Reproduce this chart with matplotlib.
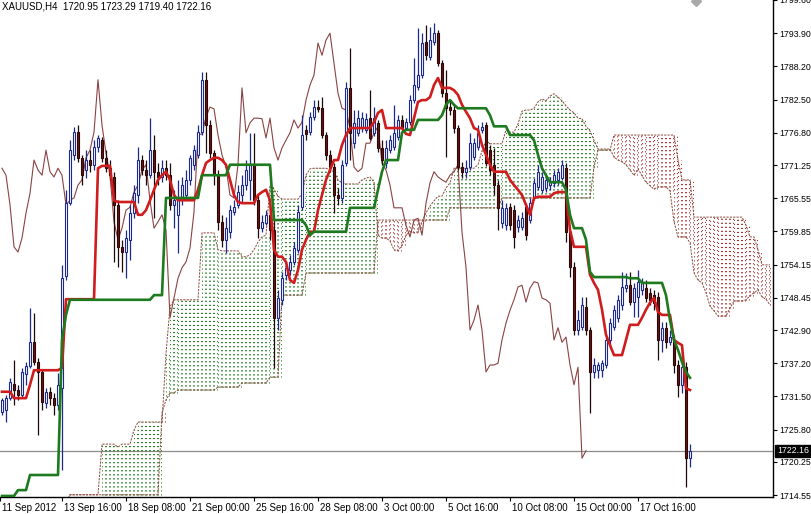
import matplotlib
matplotlib.use('Agg')
import matplotlib.pyplot as plt
import matplotlib.transforms as mtransforms
import numpy as np

plt.rcParams['font.family'] = ['Liberation Sans', 'DejaVu Sans']
plt.rcParams['lines.scale_dashes'] = False

# ---------------- data (XAUUSD H4) ----------------
symbol_title = 'XAUUSD,H4  1720.95 1723.29 1719.40 1722.16'
current_price = 1722.16

opens = [1728.8, 1729.2, 1731.2, 1733.6, 1732.6, 1731.7, 1735.3, 1736.7, 1740.8, 1737.4,
         1735.7, 1730.4, 1732.3, 1731.2, 1730.0, 1732.9, 1752.2, 1764.7, 1773.0, 1776.9,
         1772.5, 1770.4, 1772.1, 1771.3, 1774.3, 1775.5, 1772.5, 1770.7, 1769.2, 1764.4,
         1757.2, 1756.3, 1758.4, 1763.0, 1766.1, 1772.1, 1770.4, 1769.5, 1773.8, 1770.1,
         1769.2, 1770.7, 1769.5, 1764.4, 1762.7, 1765.6, 1766.1, 1768.7, 1771.3, 1773.0,
         1776.9, 1785.9, 1778.1, 1773.3, 1769.5, 1761.5, 1758.4, 1759.7, 1763.2, 1764.4,
         1766.1, 1767.8, 1768.7, 1771.3, 1765.2, 1760.4, 1761.3, 1762.7, 1760.1, 1745.0,
         1748.1, 1752.4, 1753.2, 1754.6, 1756.7, 1764.0, 1777.3, 1776.9, 1779.5, 1781.2,
         1781.0, 1776.4, 1773.0, 1770.9, 1766.1, 1765.6, 1771.6, 1784.5, 1775.0, 1776.8,
         1777.6, 1777.3, 1779.3, 1776.8, 1778.5, 1774.2, 1771.6, 1773.8, 1774.3, 1776.1,
         1779.0, 1777.6, 1778.6, 1782.4, 1784.7, 1786.7, 1792.4, 1789.8, 1792.4, 1793.9,
         1788.8, 1783.6, 1781.2, 1780.7, 1777.6, 1770.9, 1770.1, 1770.9, 1772.6, 1774.3,
         1777.3, 1778.1, 1773.8, 1771.3, 1767.8, 1761.3, 1760.9, 1764.0, 1763.5, 1760.6,
         1760.6, 1764.0, 1761.8, 1765.6, 1767.5, 1767.0, 1767.3, 1767.8, 1768.2, 1768.7,
         1769.0, 1770.7, 1759.7, 1753.7, 1742.9, 1743.4, 1746.9, 1742.9, 1735.7, 1736.0,
         1736.0, 1736.9, 1741.2, 1743.4, 1745.0, 1747.2, 1750.1, 1750.6, 1747.7, 1748.6,
         1749.8, 1750.1, 1749.3, 1748.9, 1748.6, 1741.2, 1743.3, 1740.8, 1741.2, 1736.9,
         1733.5, 1736.5, 1720.95]
highs = [1731.2, 1731.7, 1734.6, 1737.8, 1733.5, 1736.4, 1737.4, 1746.7, 1745.8, 1738.1,
         1736.0, 1732.9, 1733.1, 1732.1, 1735.5, 1754.1, 1767.0, 1775.5, 1777.8, 1778.1,
         1773.0, 1773.8, 1773.8, 1775.5, 1776.4, 1776.1, 1773.8, 1772.1, 1770.1, 1765.2,
         1758.4, 1760.1, 1764.4, 1767.8, 1774.3, 1773.0, 1772.1, 1779.3, 1776.4, 1771.6,
         1772.1, 1772.1, 1771.6, 1767.0, 1768.7, 1769.2, 1770.4, 1773.0, 1774.7, 1778.1,
         1787.2, 1787.2, 1779.0, 1773.8, 1770.4, 1762.7, 1762.3, 1764.4, 1765.2, 1767.8,
         1769.5, 1772.1, 1776.8, 1776.8, 1766.1, 1762.7, 1763.5, 1764.4, 1761.8, 1749.8,
         1752.9, 1754.6, 1755.8, 1758.0, 1764.4, 1779.8, 1778.1, 1780.4, 1782.4, 1782.4,
         1782.9, 1776.9, 1773.8, 1771.6, 1767.3, 1772.1, 1785.5, 1791.4, 1780.7, 1780.7,
         1780.4, 1780.2, 1784.1, 1781.2, 1779.0, 1775.5, 1775.5, 1776.4, 1781.6, 1779.8,
         1779.8, 1779.3, 1783.3, 1789.6, 1794.8, 1793.9, 1795.3, 1795.0, 1795.6, 1794.4,
         1789.3, 1787.6, 1782.4, 1781.6, 1778.1, 1771.8, 1772.1, 1776.8, 1775.9, 1778.1,
         1778.6, 1778.6, 1774.7, 1774.2, 1768.7, 1765.2, 1764.7, 1764.7, 1764.4, 1762.7,
         1763.2, 1764.7, 1765.6, 1769.0, 1771.3, 1770.1, 1769.5, 1769.2, 1770.4, 1770.7,
         1772.1, 1771.6, 1760.1, 1754.6, 1746.3, 1748.6, 1748.6, 1743.4, 1738.1, 1737.4,
         1737.8, 1742.0, 1745.0, 1747.2, 1748.9, 1752.9, 1752.7, 1752.9, 1751.0, 1753.2,
         1751.8, 1751.5, 1750.1, 1749.8, 1749.4, 1744.3, 1744.3, 1742.9, 1742.0, 1737.8,
         1737.4, 1737.4, 1723.29]
lows = [1728.3, 1727.1, 1730.9, 1730.0, 1730.9, 1731.2, 1733.5, 1736.4, 1736.9, 1724.9,
        1729.2, 1729.5, 1730.0, 1728.3, 1729.2, 1718.8, 1751.5, 1764.4, 1772.1, 1771.8,
        1767.8, 1769.0, 1770.1, 1770.4, 1773.5, 1771.8, 1770.1, 1768.7, 1754.6, 1753.7,
        1752.9, 1751.8, 1754.9, 1762.1, 1764.7, 1769.5, 1767.8, 1769.0, 1762.1, 1767.8,
        1768.3, 1768.7, 1763.5, 1760.4, 1756.1, 1764.4, 1765.2, 1767.8, 1770.4, 1772.5,
        1776.4, 1773.3, 1772.5, 1767.8, 1760.1, 1757.2, 1756.1, 1758.7, 1762.7, 1763.9,
        1764.7, 1767.0, 1765.2, 1764.4, 1758.7, 1759.7, 1760.9, 1758.4, 1736.4, 1742.9,
        1747.2, 1751.5, 1752.4, 1754.1, 1756.1, 1763.5, 1775.5, 1776.4, 1779.0, 1780.4,
        1775.9, 1772.1, 1770.1, 1763.0, 1764.4, 1764.7, 1771.1, 1772.1, 1774.2, 1776.2,
        1776.9, 1776.8, 1775.5, 1776.2, 1773.5, 1771.3, 1770.7, 1773.3, 1773.8, 1775.5,
        1776.9, 1777.3, 1778.1, 1781.9, 1784.1, 1786.2, 1789.3, 1789.3, 1791.9, 1788.3,
        1782.9, 1772.6, 1779.8, 1776.8, 1770.4, 1769.0, 1769.0, 1770.4, 1772.1, 1773.8,
        1776.8, 1771.1, 1769.5, 1766.1, 1760.1, 1760.4, 1760.1, 1760.1, 1757.0, 1759.7,
        1760.1, 1758.4, 1761.3, 1765.2, 1767.0, 1766.4, 1766.6, 1767.0, 1767.5, 1767.8,
        1768.7, 1758.0, 1752.0, 1742.0, 1742.0, 1742.9, 1742.0, 1728.6, 1734.6, 1734.6,
        1734.8, 1736.4, 1740.3, 1742.9, 1744.3, 1746.3, 1749.4, 1747.2, 1745.1, 1745.1,
        1748.9, 1747.7, 1747.2, 1746.3, 1737.8, 1739.1, 1739.8, 1740.3, 1735.5, 1731.4,
        1732.1, 1715.9, 1719.40]
closes = [1730.9, 1731.2, 1734.0, 1732.6, 1731.7, 1735.7, 1736.7, 1740.8, 1737.4, 1735.7,
          1730.5, 1732.3, 1731.2, 1730.0, 1733.5, 1751.8, 1764.7, 1773.8, 1776.9, 1772.5,
          1769.5, 1772.1, 1771.3, 1774.3, 1775.9, 1772.5, 1770.7, 1769.5, 1764.4, 1757.2,
          1756.3, 1758.7, 1763.0, 1766.4, 1772.1, 1770.4, 1769.5, 1773.8, 1770.1, 1769.2,
          1770.7, 1769.5, 1764.4, 1765.2, 1765.6, 1767.8, 1768.7, 1772.5, 1773.8, 1776.9,
          1785.9, 1778.1, 1773.3, 1769.5, 1761.5, 1758.4, 1760.4, 1763.5, 1764.0, 1766.6,
          1767.8, 1770.4, 1771.3, 1765.2, 1760.4, 1761.5, 1762.7, 1760.1, 1745.0, 1748.4,
          1751.8, 1753.6, 1754.6, 1757.0, 1763.2, 1776.4, 1776.6, 1779.5, 1781.2, 1780.9,
          1776.4, 1773.0, 1770.9, 1766.1, 1765.6, 1771.3, 1784.5, 1776.8, 1778.5, 1779.3,
          1779.3, 1779.2, 1775.9, 1779.3, 1774.2, 1772.1, 1774.2, 1775.5, 1776.8, 1779.0,
          1777.6, 1778.6, 1782.4, 1785.0, 1786.7, 1792.2, 1790.1, 1792.7, 1793.9, 1788.8,
          1783.6, 1781.0, 1780.7, 1777.6, 1770.9, 1770.1, 1770.7, 1775.0, 1775.0, 1776.8,
          1777.8, 1771.6, 1770.4, 1767.8, 1763.9, 1763.9, 1763.9, 1760.9, 1758.9, 1761.8,
          1762.1, 1759.2, 1764.7, 1768.2, 1770.1, 1769.2, 1768.7, 1768.3, 1769.5, 1770.1,
          1771.3, 1759.7, 1753.7, 1742.9, 1744.6, 1747.2, 1742.9, 1735.7, 1736.9, 1736.9,
          1737.2, 1741.2, 1744.1, 1746.3, 1748.1, 1750.3, 1750.6, 1747.7, 1750.1, 1751.2,
          1751.0, 1748.4, 1748.1, 1747.5, 1741.2, 1743.3, 1740.8, 1741.7, 1736.9, 1733.5,
          1736.5, 1720.9, 1722.16]

tenkan = ([1732.3] * 3 + [1731.2] * 4 + [1733.5] + [1736.0] * 7 + [1736.4] + [1748.2] * 8 +
          [1770.7] + [1771.1] * 3 + [1765.2] + [1764.9] * 5 + [1762.7] * 2 + [1763.5, 1765.2,
          1767.0, 1768.7, 1769.5, 1770.1, 1768.7, 1766.1] + [1765.2] * 5 + [1767.0, 1769.5,
          1771.6, 1772.1, 1772.5, 1772.5, 1772.1, 1771.3, 1768.7, 1766.1, 1764.9] +
          [1764.7] * 4 + [1766.1, 1766.6, 1767.0, 1765.2, 1756.7, 1755.5, 1755.5, 1754.6,
          1751.5, 1751.0, 1753.2, 1756.7, 1758.4, 1759.8, 1759.8, 1763.5, 1766.1, 1768.7,
          1770.4, 1772.1, 1772.1, 1774.7, 1776.4] + [1777.6] * 6 + [1778.6, 1780.2, 1780.7] +
          [1777.6] * 5 + [1776.6, 1776.4, 1779.3, 1782.1, 1782.4, 1782.4, 1782.9, 1785.0,
          1786.2] + [1784.5] * 3 + [1784.1, 1783.3, 1781.6, 1780.4, 1779.3, 1777.6, 1777.3,
          1774.7, 1773.0, 1771.3] + [1770.1] * 4 + [1768.7, 1767.8, 1767.0, 1766.1, 1764.4,
          1762.7, 1765.6] + [1765.8] * 4 + [1766.4] + [1766.6] * 3 + [1760.1] + [1757.2] * 4 +
          [1752.4, 1751.0, 1749.8, 1746.4, 1742.1, 1740.3] + [1738.6] * 3 + [1741.2] +
          [1743.8] * 3 + [1745.0, 1746.4, 1747.6, 1748.4, 1746.0] + [1745.5] * 3 +
          [1741.2, 1740.7, 1740.3, 1732.9, 1732.6])

kijun = ([1714.4] * 4 + [1715.4] * 3 + [1718.0] * 8 + [1741.2, 1745.5] + [1748.1] * 21 +
         [1748.9] * 3 + [1765.6] * 9 + [1769.5] * 7 + [1771.3] * 11 + [1761.8] * 8 +
         [1760.9, 1759.2] + [1759.8] * 9 + [1763.9] * 7 + [1767.0, 1770.1] + [1772.1] * 4 +
         [1776.8] + [1777.3] * 3 + [1779.0] * 6 + [1779.8, 1781.6, 1782.4, 1781.6] +
         [1781.0] * 8 + [1779.8] + [1777.9] * 4 + [1776.4] * 6 + [1775.5, 1773.0, 1770.7,
         1769.5] + [1768.3] * 4 + [1767.0, 1762.7] + [1760.4] * 3 + [1758.4, 1752.9] +
         [1752.0] * 9 + [1751.8] * 3 + [1751.0] * 6 + [1748.9, 1744.6, 1741.2, 1739.5,
         1737.4, 1735.7, 1734.7])

# leading spans, 26 bars ahead of the last candle
senkou_a = ([1713.0] * 17 + [1714.6] * 8 + [1723.3] * 4 + [1722.8] + [1723.3] * 3 +
            [1725.7] + [1727.1] * 7 + [1738.8, 1746.9] + [1748.1] * 7 + [1759.6] * 4 +
            [1756.7] + [1756.5] * 5 + [1755.5] * 2 + [1755.8, 1756.7, 1758.0, 1758.9,
            1759.2, 1767.8, 1767.1, 1765.9] + [1765.4] * 5 + [1766.3, 1769.5, 1770.6] +
            [1770.7] * 4 + [1770.4, 1770.1, 1768.7, 1768.2] + [1768.0] * 4 +
            [1768.7, 1769.0, 1769.2, 1768.3, 1759.2, 1758.7, 1758.7, 1758.2, 1756.7,
            1756.5, 1757.5, 1759.2, 1759.8, 1759.6, 1759.8, 1761.6, 1763.0, 1764.2,
            1765.1, 1765.9, 1765.9, 1767.3, 1768.2] + [1770.7] * 6 + [1771.3, 1773.7,
            1775.4] + [1774.9] * 4 + [1777.3, 1776.9, 1776.9, 1778.3, 1780.5, 1780.7,
            1780.7, 1781.0, 1782.1, 1782.6, 1782.3, 1783.1, 1783.5, 1782.9, 1782.3,
            1781.4, 1780.7, 1780.2, 1779.3, 1779.2, 1777.9, 1777.1, 1775.5] +
            [1774.0] * 4 + [1772.6, 1772.1, 1771.8, 1771.3, 1770.4, 1769.5, 1770.6,
            1769.4, 1768.3, 1767.7, 1767.1] + [1767.5] * 3 + [1766.8, 1761.5] +
            [1758.9] * 3 + [1757.9, 1752.7, 1751.5, 1751.0, 1749.3, 1747.0, 1746.2] +
            [1745.3] * 3 + [1746.7] + [1747.9] * 3 + [1748.1, 1748.8, 1749.3, 1749.8,
            1748.6, 1748.2, 1747.2])

senkou_b = ([1713.0] * 17 + [1714.6] * 23 + [1728.7, 1730.9] + [1732.1] * 2 +
            [1732.6] * 10 + [1733.1] * 6 + [1733.8] * 7 + [1734.8] * 3 + [1748.9] * 6 +
            [1752.7] * 18 + [1761.8] * 18 + [1763.9] * 13 + [1765.6] * 23 + [1770.9] +
            [1773.8] * 4 + [1776.4] * 16 + [1772.1] + [1768.7] * 3 + [1762.3] * 13 +
            [1760.9] + [1758.9] * 2 + [1756.7] + [1754.1] * 3)

price_ticks = [1799.60, 1793.90, 1788.20, 1782.50, 1776.80, 1771.25, 1765.55, 1759.85,
               1754.15, 1748.45, 1742.90, 1737.20, 1731.50, 1725.80, 1720.25, 1714.55]
date_ticks = [-0.5, 15, 31, 47, 63, 79, 95, 111, 127, 143, 159]
date_labels = ['11 Sep 2012', '13 Sep 16:00', '18 Sep 08:00', '21 Sep 00:00', '25 Sep 16:00',
               '28 Sep 08:00', '3 Oct 00:00', '5 Oct 16:00', '10 Oct 08:00', '15 Oct 00:00',
               '17 Oct 16:00']
chikou_shift = 26

n = len(closes)
for arr in (opens, highs, lows, tenkan, kijun):
    assert len(arr) == n, len(arr)
assert len(senkou_a) == len(senkou_b), (len(senkou_a), len(senkou_b))

# ---------------- figure ----------------
W, H = 811, 514
fig = plt.figure(figsize=(W / 100, H / 100), dpi=100)
fig.patch.set_facecolor('white')
ax = fig.add_axes([0, 17 / H, 773 / W, 497 / H])
ax.set_facecolor('white')

x = np.arange(n)
o = np.array(opens); h = np.array(highs); l = np.array(lows); c = np.array(closes)

# cloud (sparse dotted vertical hatch)
xa = np.arange(len(senkou_a))
sa = np.array(senkou_a); sb = np.array(senkou_b)
cols_x, lo_, hi_, cc = [], [], [], []
for i in xa:
    col = '#237a23' if sa[i] >= sb[i] else '#a82828'
    for dx in (0.0, 0.75):
        cols_x.append(i + dx)
        lo_.append(min(sa[i], sb[i]))
        hi_.append(max(sa[i], sb[i]))
        cc.append(col)
ax.vlines(cols_x, lo_, hi_, colors=cc, linewidth=0.7,
          linestyles=[(0, (0.8, 2.1))], zorder=1)
ax.plot(xa, sa, color='#8a4b3a', lw=0.7, ls=(0, (1.6, 0.8)), zorder=1.5)
ax.plot(xa, sb, color='#8a4b3a', lw=0.7, ls=(0, (1.6, 0.8)), zorder=1.5)

# bid line
ax.axhline(current_price, color='#8c8c8c', lw=0.9, zorder=0.8)

# chikou span (closes drawn 26 bars back)
ax.plot(np.arange(n - chikou_shift), c[chikou_shift:], color='#8b4343', lw=0.8, zorder=2)

# candles
bull = c >= o
ax.vlines(x[bull], l[bull], h[bull], colors='#1c2a8c', lw=0.9, zorder=3)
ax.vlines(x[~bull], l[~bull], h[~bull], colors='#1a0a0a', lw=0.9, zorder=3)
body_lo = np.minimum(o, c)
body_h = np.maximum(np.abs(c - o), 0.2)
ax.bar(x[bull], body_h[bull], bottom=body_lo[bull], width=0.62, color='white',
       edgecolor='#1c2a8c', linewidth=0.8, zorder=3.2)
ax.bar(x[~bull], body_h[~bull], bottom=body_lo[~bull], width=0.62, color='#6e1212',
       edgecolor='#2a0808', linewidth=0.8, zorder=3.2)

# tenkan / kijun
ax.plot(x, tenkan, color='#d01c1c', lw=1.9, zorder=4, solid_joinstyle='round')
ax.plot(x, kijun, color='#1e7a1e', lw=1.9, zorder=4.2, solid_joinstyle='round')

# axes styling
ax.set_xlim(-0.5, 192.75)
ax.set_ylim(1714.22, 1799.6)
for s in ('top', 'left'):
    ax.spines[s].set_visible(False)
for s in ('right', 'bottom'):
    ax.spines[s].set_color('black')
    ax.spines[s].set_linewidth(1.0)

ax.yaxis.tick_right()
ax.set_yticks(price_ticks)
ax.set_yticklabels([f'{v:.2f}' for v in price_ticks])
ax.tick_params(axis='y', direction='out', length=3, width=0.8, labelsize=6.3, pad=1.5,
               colors='black')
ax.set_xticks(date_ticks)
ax.set_xticklabels(date_labels)
ax.tick_params(axis='x', direction='out', length=3, width=0.8, labelsize=7, pad=1.5,
               colors='black')
offset = mtransforms.ScaledTranslation(2 / 100, 0, fig.dpi_scale_trans)
for lab in ax.get_xticklabels():
    lab.set_ha('left')
    lab.set_transform(lab.get_transform() + offset)

# title
ax.text(0.003, 0.996, symbol_title, transform=ax.transAxes, ha='left', va='top',
        fontsize=7, color='black', zorder=6)

# current price label on axis
tr = mtransforms.blended_transform_factory(ax.transAxes, ax.transData)
ax.text(1.0 + 4 / 773, current_price, f'{current_price:.2f}', transform=tr, ha='left',
        va='center', fontsize=6.3, color='white', zorder=7, clip_on=False,
        bbox=dict(boxstyle='square,pad=0.2', fc='black', ec='black'))

# chart shift marker
ax.plot([n + 0.5], [0.998], transform=mtransforms.blended_transform_factory(ax.transData, ax.transAxes),
        marker='D', ms=5, color='#a8a8a8', clip_on=False, zorder=6)

fig.savefig('out.png', dpi=100, facecolor='white')
